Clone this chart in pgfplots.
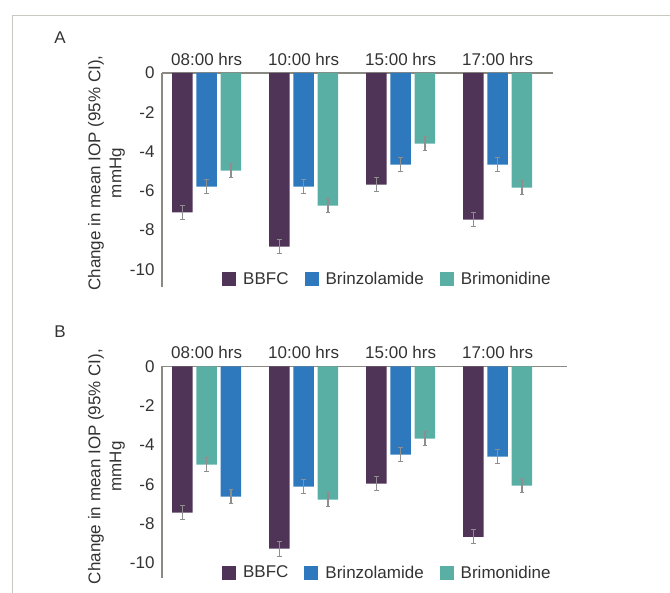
\documentclass[border=0pt]{standalone}
\usepackage{fontspec}
\setmainfont{Liberation Sans}
\usepackage{pgfplots}
\pgfplotsset{compat=1.18}
\definecolor{bbfc}{HTML}{4F3457}
\definecolor{brinz}{HTML}{2E78BE}
\definecolor{brim}{HTML}{5AAFA5}
\definecolor{axisgrey}{HTML}{8A8A82}
\definecolor{errgrey}{HTML}{8E8E8E}
\definecolor{framegrey}{HTML}{C8C8C0}
\definecolor{txt}{HTML}{333333}
\newcommand{\chartfont}{\fontsize{17}{21}\selectfont}
\pgfplotsset{
  sqlegend/.style={legend image code/.code={\path[##1] (0pt,-7pt) rectangle (14pt,7pt);}},
  mybar/.style={ybar, bar width=20.7pt, bar shift=0pt, draw=none, fill=#1, sqlegend,
    error bars/.cd, y dir=both, y explicit,
    error bar style={errgrey, line width=1.3pt},
    error mark options={errgrey, rotate=90, mark size=2.2pt, line width=1pt}},
  iopaxis/.style={
    scale only axis, anchor=north west, clip=false,
    xmin=-0.46, ymax=0,
    axis x line=top, axis y line=left,
    axis line style={draw=axisgrey, line width=1.6pt, -},
    major tick length=0pt,
    xtick={0,1,2,3}, xticklabels={08:00 hrs,10:00 hrs,15:00 hrs,17:00 hrs},
    ytick={-10,-8,-6,-4,-2,0}, yticklabels={-10,-8,-6,-4,-2,0},
    tick label style={font=\chartfont, text=txt},
    xticklabel style={yshift=4pt},
    yticklabel style={xshift=-4pt},
    legend columns=3,
    legend style={draw=none, fill=none, inner sep=0pt, anchor=west,
      font=\chartfont, text=txt, nodes={inner sep=0pt},
      /tikz/every odd column/.append style={column sep=7pt},
      /tikz/every even column/.append style={column sep=16pt}},
  }}
\begin{document}
\begin{tikzpicture}
\useasboundingbox (0pt,0pt) rectangle (670pt,-593pt);
\draw[framegrey, line width=1pt] (12pt,-593pt) -- (12pt,-15.5pt) -- (670pt,-15.5pt);
\node[font=\chartfont, text=txt] at (60pt,-38pt) {A};
\node[font=\chartfont, text=txt] at (60pt,-331.5pt) {B};
\node[font=\chartfont, text=txt, rotate=90, align=center] at (106.5pt,-173pt) {Change in mean IOP (95\% CI),\\mmHg};
\node[font=\chartfont, text=txt, rotate=90, align=center] at (106.5pt,-466.5pt) {Change in mean IOP (95\% CI),\\mmHg};

% panel A
\begin{axis}[iopaxis, at={(162pt,-73pt)}, width=391pt, height=214pt,
  xmax=3.571, ymin=-10.9,
  legend style={at={(rel axis cs:0.1535,0.037)}}]
\addplot[mybar=bbfc] coordinates {(-0.25,-7.1) +- (0,0.35) (0.75,-8.84) +- (0,0.36) (1.75,-5.69) +- (0,0.36) (2.75,-7.47) +- (0,0.36)};
\addplot[mybar=brinz] coordinates {(0,-5.79) +- (0,0.35) (1,-5.79) +- (0,0.35) (2,-4.67) +- (0,0.36) (3,-4.67) +- (0,0.36)};
\addplot[mybar=brim] coordinates {(0.25,-4.97) +- (0,0.36) (1.25,-6.76) +- (0,0.35) (2.25,-3.6) +- (0,0.35) (3.25,-5.84) +- (0,0.35)};
\legend{BBFC,Brinzolamide,Brimonidine}
\end{axis}

% panel B
\begin{axis}[iopaxis, at={(162pt,-366.5pt)}, width=405pt, height=211.5pt,
  xmax=3.715, ymin=-10.77,
  legend style={at={(rel axis cs:0.148,0.025)}}]
\addplot[mybar=bbfc] coordinates {(-0.25,-7.44) +- (0,0.37) (0.75,-9.28) +- (0,0.37) (1.75,-5.97) +- (0,0.36) (2.75,-8.67) +- (0,0.36)};
\addplot[mybar=brinz] coordinates {(0.25,-6.63) +- (0,0.36) (1,-6.12) +- (0,0.35) (2,-4.49) +- (0,0.36) (3,-4.59) +- (0,0.36)};
\addplot[mybar=brim] coordinates {(0,-5.0) +- (0,0.36) (1.25,-6.78) +- (0,0.36) (2.25,-3.67) +- (0,0.36) (3.25,-6.07) +- (0,0.35)};
\legend{BBFC,Brinzolamide,Brimonidine}
\end{axis}
\end{tikzpicture}
\end{document}
